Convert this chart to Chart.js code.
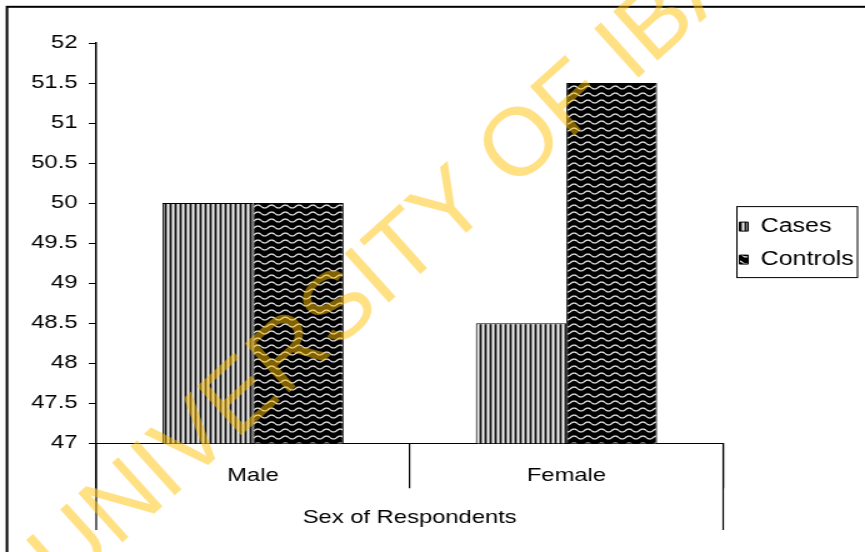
<!DOCTYPE html>
<html>
<head>
<meta charset="utf-8">
<script src="https://cdn.jsdelivr.net/npm/chart.js@4.4.1/dist/chart.umd.min.js"></script>
<style>
  html, body { margin: 0; padding: 0; background: #fff; overflow: hidden; }
</style>
</head>
<body>
<canvas id="chart" width="692" height="552" style="display:block;width:865px;height:552px"></canvas>
<script>
// ---- data ----
const categories = ['Male', 'Female'];
const casesValues = [50, 48.5];
const controlsValues = [50, 51.5];
const seriesNames = ['Cases', 'Controls'];
const yTickValues = [47, 47.5, 48, 48.5, 49, 49.5, 50, 50.5, 51, 51.5, 52];
const axisTitleText = 'Sex of Respondents';
const watermarkText = 'UNIVERSITY OF IBADAN';

// the canvas is drawn narrow and widened by CSS
const STRETCH = 865 / 692;
const FONT = '"Liberation Sans", Arial, sans-serif';

// vertical-stripe fill
function stripePattern() {
  const c = document.createElement('canvas');
  c.width = 4; c.height = 4;
  const g = c.getContext('2d');
  const cols = ['#111', '#8a8a8a', '#f4f4f4', '#8a8a8a'];
  cols.forEach((col, i) => { g.fillStyle = col; g.fillRect(i, 0, 1, 4); });
  return g.createPattern(c, 'repeat');
}

// black fill with white wavy lines
function wavePattern() {
  const w = 11, h = 7;
  const c = document.createElement('canvas');
  c.width = w; c.height = h;
  const g = c.getContext('2d');
  g.fillStyle = '#000';
  g.fillRect(0, 0, w, h);
  g.strokeStyle = '#ececec';
  g.lineWidth = 1.25;
  for (const off of [-h, 0, h]) {
    g.beginPath();
    for (let x = 0; x <= w; x += 0.5) {
      const y = 3.5 + off + 1.5 * Math.sin(2 * Math.PI * x / w);
      if (x === 0) g.moveTo(x, y); else g.lineTo(x, y);
    }
    g.stroke();
  }
  return g.createPattern(c, 'repeat');
}

// outer frame of the figure
const outerFrame = {
  id: 'outerFrame',
  beforeDraw(chart) {
    const ctx = chart.ctx;
    ctx.save();
    ctx.fillStyle = '#fff';
    ctx.fillRect(0, 0, chart.width, chart.height);
    ctx.strokeStyle = '#000';
    ctx.lineWidth = 2;
    ctx.strokeRect(5.6, 6.8, chart.width + 20, chart.height + 20);
    ctx.restore();
  }
};

// box around the legend entries
const legendFrame = {
  id: 'legendFrame',
  afterDraw(chart) {
    const hb = chart.legend && chart.legend.legendHitBoxes;
    if (!hb || !hb.length) return;
    const ctx = chart.ctx;
    const left = hb[0].left - 2;
    const top = hb[0].top - 10;
    const right = Math.max(...hb.map(b => b.left + b.width)) + 3;
    const last = hb[hb.length - 1];
    const bottom = last.top + last.height + 8;
    ctx.save();
    ctx.strokeStyle = '#000';
    ctx.lineWidth = 1;
    ctx.strokeRect(left, top, right - left, bottom - top);
    ctx.restore();
  }
};

// outer group lines under the category axis
const groupLines = {
  id: 'groupLines',
  afterDraw(chart) {
    const { ctx, chartArea } = chart;
    const y0 = chartArea.bottom;
    const y1 = 530;
    ctx.save();
    ctx.strokeStyle = '#000';
    ctx.lineWidth = 1.2;
    [chartArea.left, chartArea.right].forEach(x => {
      ctx.beginPath();
      ctx.moveTo(x, y0);
      ctx.lineTo(x, y1);
      ctx.stroke();
    });
    ctx.restore();
  }
};

// diagonal institutional watermark over everything
const watermark = {
  id: 'watermark',
  afterDraw(chart) {
    const ctx = chart.ctx;
    ctx.save();
    ctx.scale(1 / STRETCH, 1);
    ctx.translate(65, 594);
    ctx.rotate(-42 * Math.PI / 180);
    ctx.font = '96px ' + FONT;
    ctx.fillStyle = 'rgba(255, 193, 7, 0.5)';
    ctx.textBaseline = 'alphabetic';
    ctx.fillText(watermarkText, 0, 0);
    ctx.restore();
  }
};

const ctx = document.getElementById('chart').getContext('2d');
const stripes = stripePattern();
const waves = wavePattern();

new Chart(ctx, {
  type: 'bar',
  data: {
    labels: categories,
    datasets: [
      {
        label: seriesNames[0],
        data: casesValues,
        backgroundColor: stripes,
        borderColor: '#000',
        borderWidth: 1,
        categoryPercentage: 0.578,
        barPercentage: 1
      },
      {
        label: seriesNames[1],
        data: controlsValues,
        backgroundColor: waves,
        borderColor: '#000',
        borderWidth: 1,
        categoryPercentage: 0.578,
        barPercentage: 1
      }
    ]
  },
  options: {
    responsive: false,
    animation: false,
    devicePixelRatio: 1,
    layout: { padding: { top: 43, left: 16, right: -1, bottom: 0 } },
    plugins: {
      tooltip: { enabled: false },
      legend: {
        position: 'right',
        align: 'center',
        fullSize: false,
        labels: {
          boxWidth: 7,
          boxHeight: 9,
          padding: 13,
          color: '#000',
          font: { family: FONT, size: 20 }
        }
      }
    },
    scales: {
      x: {
        grid: {
          drawOnChartArea: false,
          drawTicks: true,
          tickLength: 45,
          color: '#000',
          lineWidth: 1.2,
          offset: true
        },
        border: { display: true, color: '#000', width: 1 },
        ticks: {
          color: '#000',
          font: { family: FONT, size: 19 },
          padding: -23.4,
          maxRotation: 0
        },
        title: {
          display: true,
          text: axisTitleText,
          color: '#000',
          font: { family: FONT, size: 19 },
          padding: { top: 42, bottom: 23 }
        }
      },
      y: {
        min: yTickValues[0],
        max: yTickValues[yTickValues.length - 1],
        afterBuildTicks(scale) {
          scale.ticks = yTickValues.map(v => ({ value: v }));
        },
        grid: {
          drawOnChartArea: false,
          drawTicks: true,
          tickLength: 6,
          color: '#000',
          lineWidth: 1
        },
        border: { display: true, color: '#000', width: 1.5 },
        ticks: {
          color: '#000',
          font: { family: FONT, size: 19 },
          padding: 9,
          callback: (v) => String(v)
        }
      }
    }
  },
  plugins: [outerFrame, legendFrame, groupLines, watermark]
});
</script>
</body>
</html>
